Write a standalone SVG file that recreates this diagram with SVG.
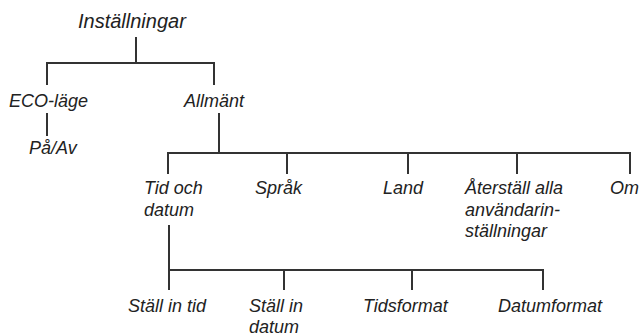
<svg xmlns="http://www.w3.org/2000/svg" width="644" height="336" viewBox="0 0 644 336">
<style>
text{font-family:"Liberation Sans",Arial,sans-serif;font-style:italic;font-size:18px;fill:#222}
.t{font-size:20px}
.c path{fill:none;stroke:#333;stroke-width:2}
</style>
<rect width="644" height="336" fill="#fff"/>
<g class="c" id="connectors">
<path d="M136 37V63M47 85V63H214V85"/>
<path d="M47 113V136"/>
<path d="M219 113V153M168 174V153H630V174M287 153V174M408 153V174M517 153V174"/>
<path d="M169 225V270M169 290V270H543V290M284 270V290M412 270V290"/>
</g>
<g id="n-installningar"><text class="t" x="78" y="28">Inställningar</text></g>
<g id="n-eco"><text x="9" y="107">ECO-läge</text></g>
<g id="n-paav"><text x="29" y="154">På/Av</text></g>
<g id="n-allmant"><text x="184" y="107">Allmänt</text></g>
<g id="n-tid"><text x="144" y="194">Tid och</text><text x="144" y="216">datum</text></g>
<g id="n-sprak"><text x="255" y="194">Språk</text></g>
<g id="n-land"><text x="383" y="194">Land</text></g>
<g id="n-aterstall"><text x="465" y="194">Återställ alla</text><text x="465" y="216">användarin-</text><text x="465" y="237">ställningar</text></g>
<g id="n-om"><text x="610" y="194">Om</text></g>
<g id="n-stalltid"><text x="128" y="312">Ställ in tid</text></g>
<g id="n-stalldatum"><text x="249" y="312">Ställ in</text><text x="249" y="333">datum</text></g>
<g id="n-tidsformat"><text x="363" y="312">Tidsformat</text></g>
<g id="n-datumformat"><text x="498" y="312">Datumformat</text></g>
</svg>
